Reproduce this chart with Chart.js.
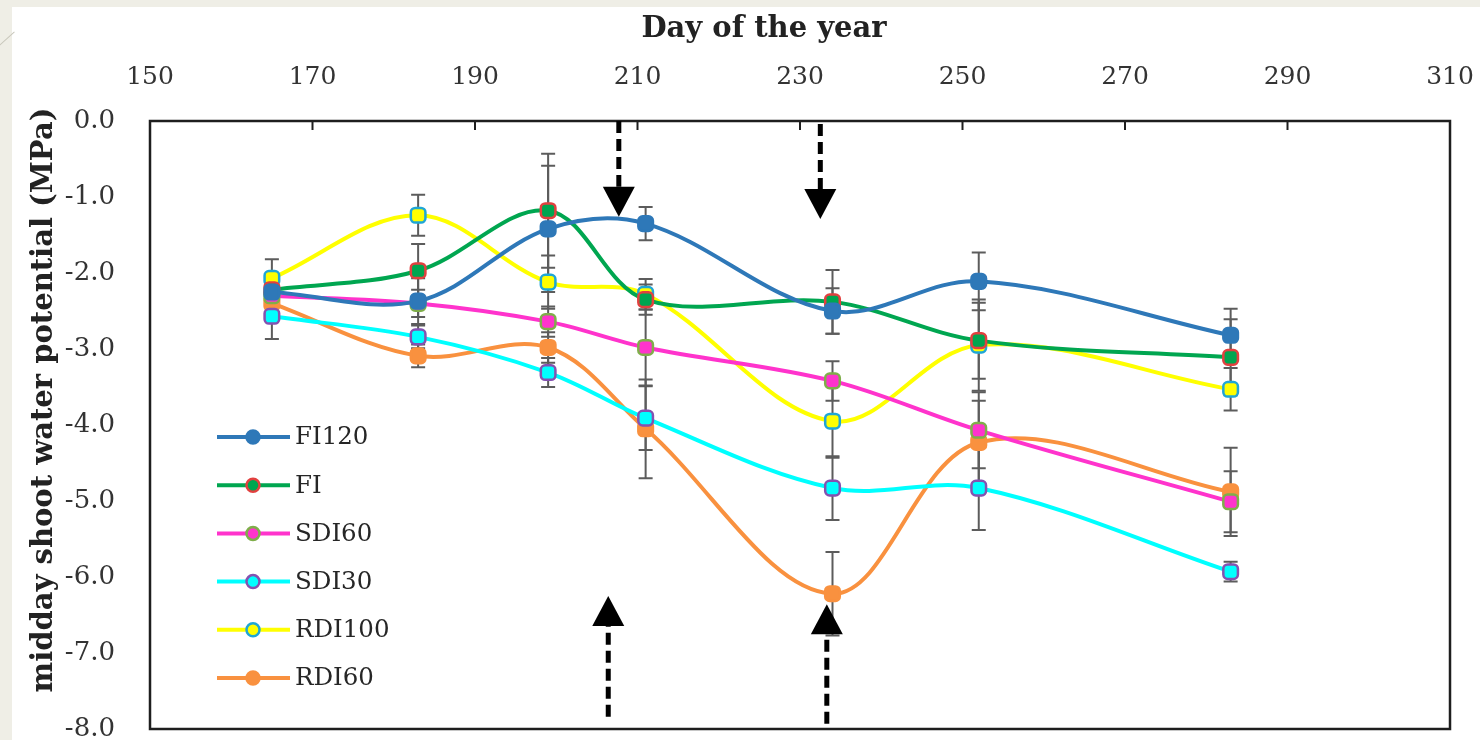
<!DOCTYPE html>
<html>
<head>
<meta charset="utf-8">
<title>Midday shoot water potential</title>
<script src="https://cdn.jsdelivr.net/npm/chart.js@4.4.1/dist/chart.umd.min.js"></script>
<style>
  html, body { margin: 0; padding: 0; width: 1480px; height: 740px; overflow: hidden; background: #efeee6; }
  #card { position: absolute; left: 12px; top: 7px; right: 0; bottom: 0; background: #fff; }
  #deco { position: absolute; left: -3px; top: 38px; width: 20px; height: 1px; background: #c8c7bb; transform: rotate(-42deg); }
  #chart { position: absolute; left: 0; top: 0; }
</style>
</head>
<body>
<div id="card"></div>
<div id="deco"></div>
<canvas id="chart" width="1480" height="740"></canvas>
<script>
// day of the year for each sampling date
const days = [165, 183, 199, 211, 234, 252, 283];

// midday shoot water potential (MPa), one array per treatment
const fi120  = [-2.25, -2.37, -1.42, -1.35, -2.50, -2.11, -2.82];
const fi     = [-2.22, -1.97, -1.18, -2.35, -2.38, -2.89, -3.11];
const sdi60  = [-2.30, -2.40, -2.64, -2.98, -3.42, -4.07, -5.01];
const sdi30  = [-2.57, -2.84, -3.31, -3.91, -4.83, -4.83, -5.93];
const rdi100 = [-2.07, -1.24, -2.12, -2.28, -3.95, -2.95, -3.53];
const rdi60  = [-2.40, -3.09, -2.98, -4.05, -6.22, -4.23, -4.88];

// error bar half-lengths (MPa)
const fi120Err  = [0.15, 0.30, 0.83, 0.22, 0.30, 0.38, 0.35];
const fiErr     = [0.15, 0.35, 0.75, 0.20, 0.42, 0.50, 0.50];
const sdi60Err  = [0.15, 0.18, 0.20, 0.50, 0.26, 0.50, 0.40];
const sdi30Err  = [0.30, 0.15, 0.19, 0.42, 0.42, 0.55, 0.13];
const rdi100Err = [0.25, 0.27, 0.35, 0.20, 0.48, 0.60, 0.28];
const rdi60Err  = [0.15, 0.15, 0.20, 0.65, 0.55, 0.55, 0.58];

const seriesNames = ['FI120', 'FI', 'SDI60', 'SDI30', 'RDI100', 'RDI60'];

// axis ranges
const xRange = [150, 310, 20];
const yRange = [-8, 0, 1];

// arrows (day, tail value, tip value)
const arrowMarks = [
    [207.7, 0.0, -1.26],
    [232.5, -0.04, -1.29],
    [206.4, -7.84, -6.25],
    [233.3, -7.93, -6.36]
];

const styles = [
    { line: '#2e78b8', fill: '#2e78b8', edge: '#2e78b8' },
    { line: '#00a650', fill: '#00a650', edge: '#e2403f' },
    { line: '#ff33cc', fill: '#ff33cc', edge: '#7fae4a' },
    { line: '#00ffff', fill: '#00ffff', edge: '#8452b0' },
    { line: '#ffff00', fill: '#ffff00', edge: '#1fa6d6' },
    { line: '#f9913f', fill: '#f9913f', edge: '#f9913f' }
];

const values = [fi120, fi, sdi60, sdi30, rdi100, rdi60];
const errors = [fi120Err, fiErr, sdi60Err, sdi30Err, rdi100Err, rdi60Err];

const FONT = "'DejaVu Serif', 'Liberation Serif', serif";

const datasets = seriesNames.map((name, k) => ({
    label: name,
    data: days.map((d, i) => ({ x: d, y: values[k][i] })),
    errors: errors[k],
    borderColor: styles[k].line,
    borderWidth: 4,
    tension: 0.35,
    pointStyle: 'rectRounded',
    pointRadius: 8.5,
    pointBackgroundColor: styles[k].fill,
    pointBorderColor: styles[k].edge,
    pointBorderWidth: 2.5,
    fill: false
}));

// gray error bars under the series
const errorBars = {
    id: 'errorBars',
    beforeDatasetsDraw(chart) {
        const ctx = chart.ctx;
        const ys = chart.scales.y;
        ctx.save();
        ctx.strokeStyle = '#5c5c5c';
        ctx.lineWidth = 2;
        chart.data.datasets.forEach((ds, k) => {
            const meta = chart.getDatasetMeta(k);
            meta.data.forEach((pt, i) => {
                const v = ds.data[i].y;
                const e = ds.errors[i];
                const top = ys.getPixelForValue(v + e);
                const bot = ys.getPixelForValue(v - e);
                ctx.beginPath();
                ctx.moveTo(pt.x, top);
                ctx.lineTo(pt.x, bot);
                ctx.moveTo(pt.x - 7, top);
                ctx.lineTo(pt.x + 7, top);
                ctx.moveTo(pt.x - 7, bot);
                ctx.lineTo(pt.x + 7, bot);
                ctx.stroke();
            });
        });
        ctx.restore();
    }
};

// plot frame and the short inner ticks of the top axis
const frame = {
    id: 'frame',
    afterDatasetsDraw(chart) {
        const { ctx, chartArea: a } = chart;
        const xs = chart.scales.x;
        ctx.save();
        ctx.strokeStyle = '#1e1e1e';
        ctx.lineWidth = 2.5;
        ctx.strokeRect(a.left, a.top, a.right - a.left, a.bottom - a.top);
        ctx.lineWidth = 2;
        xs.ticks.forEach(t => {
            if (t.value <= xRange[0] || t.value >= xRange[1]) return;
            const x = xs.getPixelForValue(t.value);
            ctx.beginPath();
            ctx.moveTo(x, a.top);
            ctx.lineTo(x, a.top + 9);
            ctx.stroke();
        });
        ctx.restore();
    }
};

// dashed black arrows
const arrows = {
    id: 'arrows',
    afterDatasetsDraw(chart) {
        const ctx = chart.ctx;
        const xs = chart.scales.x, ys = chart.scales.y;
        ctx.save();
        ctx.fillStyle = '#000';
        ctx.strokeStyle = '#000';
        arrowMarks.forEach(([day, tail, tip]) => {
            const x = xs.getPixelForValue(day);
            const y0 = ys.getPixelForValue(tail);
            const y1 = ys.getPixelForValue(tip);
            const dir = Math.sign(y1 - y0);
            const head = 30;
            ctx.lineWidth = 5;
            ctx.setLineDash([12, 6]);
            ctx.beginPath();
            ctx.moveTo(x, y0);
            ctx.lineTo(x, y1 - dir * head);
            ctx.stroke();
            ctx.setLineDash([]);
            ctx.beginPath();
            ctx.moveTo(x, y1);
            ctx.lineTo(x - 16, y1 - dir * head);
            ctx.lineTo(x + 16, y1 - dir * head);
            ctx.closePath();
            ctx.fill();
        });
        ctx.restore();
    }
};

// axis titles (placed like the original, not centred on the plot)
const axisTitles = {
    id: 'axisTitles',
    afterDraw(chart) {
        const ctx = chart.ctx;
        ctx.save();
        ctx.fillStyle = '#222';
        ctx.font = 'bold 29px ' + FONT;
        ctx.textAlign = 'center';
        ctx.textBaseline = 'middle';
        ctx.fillText('Day of the year', 764, 29);
        ctx.translate(44, 400);
        ctx.rotate(-Math.PI / 2);
        ctx.fillText('midday shoot water potential (MPa)', 0, 0);
        ctx.restore();
    }
};

// legend drawn inside the plot, line + round marker + label
const legendInside = {
    id: 'legendInside',
    afterDraw(chart) {
        const ctx = chart.ctx;
        ctx.save();
        ctx.font = '24.5px ' + FONT;
        ctx.textBaseline = 'middle';
        chart.data.datasets.forEach((ds, k) => {
            const y = 437 + k * 48.2;
            ctx.strokeStyle = ds.borderColor;
            ctx.lineWidth = 4;
            ctx.beginPath();
            ctx.moveTo(217, y);
            ctx.lineTo(290, y);
            ctx.stroke();
            ctx.beginPath();
            ctx.arc(253, y, 6.5, 0, Math.PI * 2);
            ctx.fillStyle = ds.pointBackgroundColor;
            ctx.fill();
            ctx.lineWidth = 2.5;
            ctx.strokeStyle = ds.pointBorderColor;
            ctx.stroke();
            ctx.fillStyle = '#262626';
            ctx.fillText(ds.label, 295, y + 1);
        });
        ctx.restore();
    }
};

Chart.defaults.font.family = FONT;
Chart.defaults.color = '#333';

const chart = new Chart(document.getElementById('chart').getContext('2d'), {
    type: 'line',
    data: { datasets },
    options: {
        responsive: false,
        animation: false,
        devicePixelRatio: 1,
        layout: { padding: { left: 0, top: 0, right: 30, bottom: 11 } },
        plugins: {
            legend: { display: false },
            tooltip: { enabled: false }
        },
        scales: {
            x: {
                type: 'linear',
                position: 'top',
                min: xRange[0],
                max: xRange[1],
                grid: { display: false, drawTicks: false },
                border: { display: false },
                ticks: { stepSize: xRange[2], padding: 29, font: { size: 25 }, color: '#333' },
                afterFit(scale) {
                    scale.height = 121;
                    scale.paddingLeft = 0;
                    scale.paddingRight = 0;
                }
            },
            y: {
                type: 'linear',
                position: 'left',
                min: yRange[0],
                max: yRange[1],
                grid: { display: false, drawTicks: false },
                border: { display: false },
                ticks: {
                    stepSize: yRange[2],
                    padding: 35,
                    font: { size: 26 },
                    color: '#333',
                    callback: v => v.toFixed(1)
                },
                afterFit(scale) {
                    scale.width = 150;
                    scale.paddingTop = 0;
                    scale.paddingBottom = 0;
                }
            }
        }
    },
    plugins: [errorBars, frame, arrows, axisTitles, legendInside]
});
console.log('chart area', chart.chartArea);
</script>
</body>
</html>
